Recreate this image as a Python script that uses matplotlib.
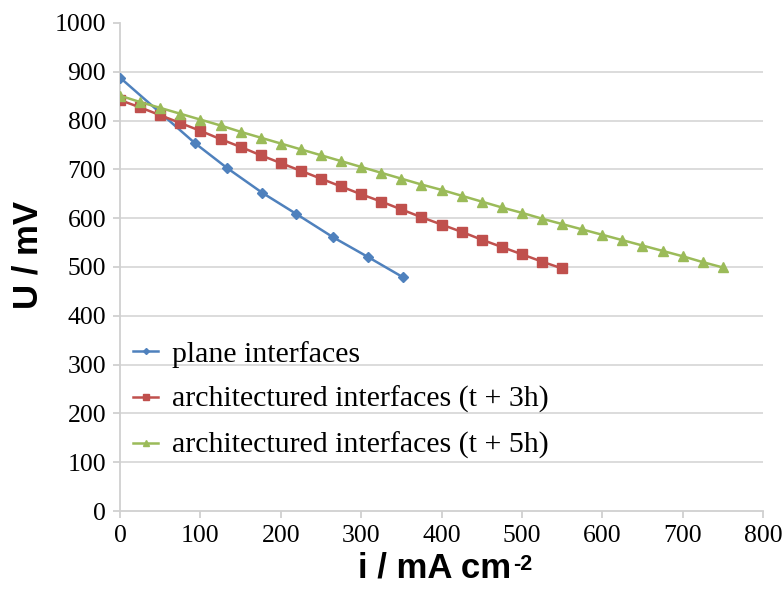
import matplotlib
matplotlib.use("Agg")
import matplotlib.pyplot as plt
import numpy as np

# Data
plane_x = [0, 93, 133, 177, 219, 265, 309, 352]
plane_y = [888, 754, 703, 652, 609, 561, 520, 479]

arch3_x = [0, 25, 50, 75, 100, 125, 150, 175, 200, 225, 250, 275, 300, 325, 350,
           375, 400, 425, 450, 475, 500, 525, 550]
arch3_y = [842, 827, 811, 795, 779, 762, 746, 729, 713, 697, 681, 665, 649, 634, 618,
           602, 587, 572, 556, 541, 526, 511, 497]

arch5_x = [0, 25, 50, 75, 100, 125, 150, 175, 200, 225, 250, 275, 300, 325, 350,
           375, 400, 425, 450, 475, 500, 525, 550, 575, 600, 625, 650, 675, 700, 725, 750]
arch5_y = [851, 838, 826, 814, 802, 790, 777, 765, 753, 741, 729, 717, 705, 693, 681,
           669, 658, 646, 634, 622, 611, 599, 588, 577, 566, 555, 544, 533, 522, 510, 499]

labels = ["plane interfaces", "architectured interfaces (t + 3h)",
          "architectured interfaces (t + 5h)"]
x_ticks = [0, 100, 200, 300, 400, 500, 600, 700, 800]
y_ticks = [0, 100, 200, 300, 400, 500, 600, 700, 800, 900, 1000]

fig = plt.figure(figsize=(7.83, 5.89), dpi=100)
ax = fig.add_axes([0.1533, 0.1324, 0.8212, 0.8286])

blue, red, green = "#4F81BD", "#C0504D", "#9BBB59"
ax.plot(plane_x, plane_y, color=blue, lw=1.8, marker="D", ms=5.5, label=labels[0], zorder=3)
ax.plot(arch3_x, arch3_y, color=red, lw=1.8, marker="s", ms=7, label=labels[1], zorder=3)
ax.plot(arch5_x, arch5_y, color=green, lw=1.8, marker="^", ms=7.5, label=labels[2], zorder=3)

ax.set_xlim(0, 800)
ax.set_ylim(0, 1000)
ax.set_xticks(x_ticks)
ax.set_yticks(y_ticks)

for v in y_ticks[1:-1]:
    ax.axhline(v, color="#D9D9D9", lw=1.3, zorder=0)

for s in ["top", "right"]:
    ax.spines[s].set_visible(False)
for s in ["left", "bottom"]:
    ax.spines[s].set_color("#D0D0D0")
    ax.spines[s].set_linewidth(1.3)

ax.tick_params(axis="both", colors="#D0D0D0", length=5, width=1.3, direction="out",
               labelcolor="black", labelsize=18.5, pad=5)
for lab in ax.get_xticklabels() + ax.get_yticklabels():
    lab.set_fontfamily("Liberation Serif")

ax.set_ylabel("U / mV", fontsize=25, fontweight="bold", family="Liberation Sans")
ax.yaxis.set_label_coords(-0.118, 0.525)

xl = fig.text(358 / 783, 1 - 577 / 589, "i / mA cm", fontsize=25, fontweight="bold",
              family="Liberation Sans", ha="left", va="baseline")
ax.annotate("-2", xy=(1, 1), xycoords=xl, xytext=(1.5, -2.5), textcoords="offset points",
            fontsize=15.5, fontweight="bold", family="Liberation Sans",
            ha="left", va="top")

leg = ax.legend(loc="center left", bbox_to_anchor=(0.02, 0.2275), frameon=False,
                prop={"family": "Liberation Serif", "size": 21.5},
                borderaxespad=0, borderpad=0,
                handlelength=0.85, handletextpad=0.45, labelspacing=0.62, markerscale=0.55)

fig.savefig("out.png", dpi=100)
